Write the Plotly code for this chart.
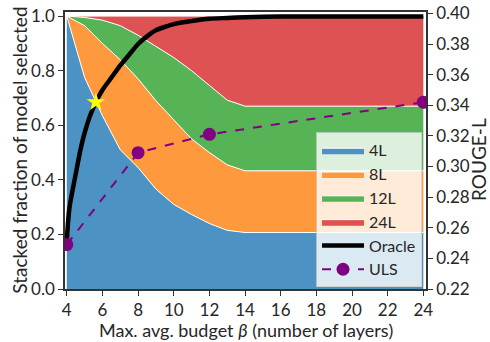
import plotly.graph_objects as go

# Maximum average budget (number of layers)
budget = [4, 5, 6, 7, 8, 9, 10, 11, 12, 13, 14, 15, 16, 17, 18, 19, 20, 21, 22, 23, 24]

# Fraction of inputs routed to each model size at every budget
frac_4L = [1.0, 0.775, 0.635, 0.51, 0.445, 0.366, 0.31, 0.273, 0.24, 0.215, 0.207,
           0.207, 0.207, 0.207, 0.207, 0.207, 0.207, 0.207, 0.207, 0.207, 0.207]
frac_8L = [0.0, 0.19, 0.265, 0.33, 0.325, 0.324, 0.31, 0.277, 0.26, 0.24, 0.226,
           0.226, 0.226, 0.226, 0.226, 0.226, 0.226, 0.226, 0.226, 0.226, 0.226]
frac_12L = [0.0, 0.03, 0.085, 0.125, 0.16, 0.20, 0.228, 0.25, 0.246, 0.237, 0.237,
            0.237, 0.237, 0.237, 0.237, 0.237, 0.237, 0.237, 0.237, 0.237, 0.237]
frac_24L = [0.0, 0.005, 0.015, 0.035, 0.07, 0.11, 0.152, 0.20, 0.254, 0.308, 0.330,
            0.330, 0.330, 0.330, 0.330, 0.330, 0.330, 0.330, 0.330, 0.330, 0.330]

# Oracle ROUGE-L as a function of budget
oracle_budget = [4.0, 4.03, 4.08, 4.15, 4.25, 4.35, 4.5, 4.75, 5.0, 5.3, 5.63, 6.0, 6.5,
                 7.0, 7.5, 8.0, 8.5, 9.0, 10.0, 11.0, 12.0, 13.0, 14.0, 16.0, 20.0, 24.0]
oracle_rouge = [0.250, 0.257, 0.265, 0.273, 0.280, 0.286, 0.295, 0.310, 0.322, 0.333,
                0.342, 0.350, 0.358, 0.366, 0.373, 0.380, 0.385, 0.389, 0.393, 0.395,
                0.3965, 0.397, 0.3975, 0.398, 0.398, 0.398]

# ULS ROUGE-L at the evaluated budgets
uls_budget = [4, 8, 12, 24]
uls_rouge = [0.249, 0.309, 0.321, 0.342]

# Budget at which the oracle reaches the best ULS score
star_budget = [5.63]
star_rouge = [0.342]

model_names = ["4L", "8L", "12L", "24L"]
model_colors = ["#4c92c3", "#ff993e", "#56b356", "#de5253"]

fig = go.Figure()

for name, vals, col in zip(model_names, [frac_4L, frac_8L, frac_12L, frac_24L], model_colors):
    fig.add_trace(go.Scatter(
        x=budget, y=vals, name=name, stackgroup="frac", mode="lines",
        line=dict(color="white", width=1), fillcolor=col, yaxis="y",
    ))

fig.add_trace(go.Scatter(
    x=oracle_budget, y=oracle_rouge, name="Oracle", mode="lines",
    line=dict(color="black", width=4.5, shape="spline", smoothing=0.5), yaxis="y2",
))
fig.add_trace(go.Scatter(
    x=uls_budget, y=uls_rouge, name="ULS", mode="lines+markers",
    line=dict(color="#800080", width=2, dash="dash"),
    marker=dict(color="#800080", size=13), yaxis="y2",
))
fig.add_trace(go.Scatter(
    x=star_budget, y=star_rouge, mode="markers", showlegend=False,
    marker=dict(symbol="star", color="#ffff00", size=14), yaxis="y2",
))

font_family = "Lato, DejaVu Sans, sans-serif"
axis_color = "#333333"
text_color = "#262626"

axis_common = dict(
    showline=True, linecolor=axis_color, linewidth=1.5,
    ticks="outside", ticklen=5, tickcolor=axis_color,
    showgrid=False, zeroline=False, automargin=False,
    tickfont=dict(size=17, color=text_color),
)

fig.update_layout(
    width=490, height=342,
    margin=dict(l=65, r=64, t=12, b=53),
    paper_bgcolor="white", plot_bgcolor="white",
    font=dict(family=font_family, size=17, color=text_color),
    showlegend=True,
    legend=dict(
        x=0.989, y=0.006, xanchor="right", yanchor="bottom",
        bgcolor="rgba(255,255,255,0.8)", bordercolor="rgba(204,204,204,0.8)",
        borderwidth=1, font=dict(size=16, color=text_color),
        tracegroupgap=0, traceorder="normal", itemwidth=42,
    ),
    xaxis=dict(
        range=[3.9, 24.15], tickmode="array", tickvals=list(range(4, 25, 2)),
        mirror=True, **axis_common,
    ),
    yaxis=dict(
        range=[0, 1.015], tickmode="array", tickvals=[0, 0.2, 0.4, 0.6, 0.8, 1.0],
        tickformat=".1f", **axis_common,
    ),
    yaxis2=dict(
        range=[0.22, 0.4009], overlaying="y", side="right",
        tickmode="array", tickvals=[0.22 + 0.02 * i for i in range(10)], tickformat=".2f",
        **axis_common,
    ),
    annotations=[
        dict(text="Max. avg. budget <i>β</i> (number of layers)", xref="paper", yref="paper",
             x=0.5, y=-0.149, xanchor="center", yanchor="middle", showarrow=False,
             font=dict(size=18, color=text_color)),
        dict(text="Stacked fraction of model selected", xref="paper", yref="paper",
             x=-0.127, y=0.5, xanchor="center", yanchor="middle", showarrow=False,
             textangle=-90, font=dict(size=19, color=text_color)),
        dict(text="ROUGE-L", xref="paper", yref="paper",
             x=1.147, y=0.466, xanchor="center", yanchor="middle", showarrow=False,
             textangle=-90, font=dict(size=19, color=text_color)),
    ],
)

fig.write_html("out.html")
